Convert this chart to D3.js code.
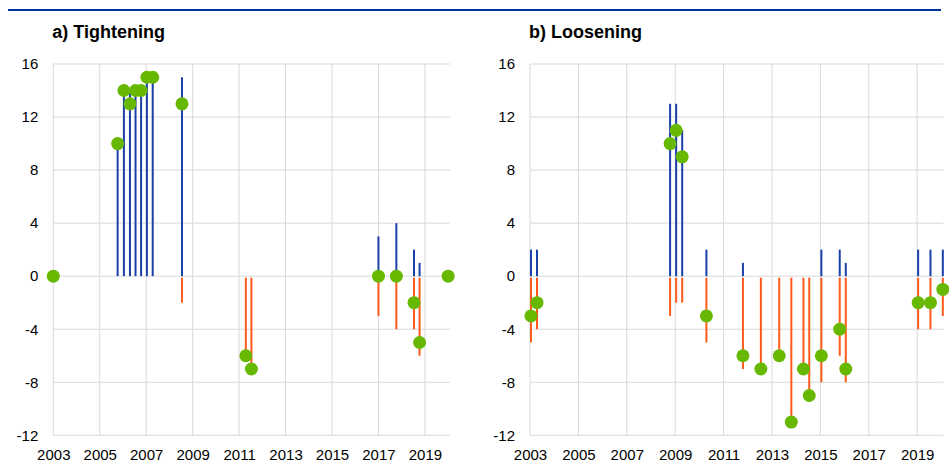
<!DOCTYPE html>
<html>
<head>
<meta charset="utf-8">
<script src="https://cdn.jsdelivr.net/npm/d3@7"></script>
<style>
  body { margin: 0; background: #fff; }
  text { font-family: Arial, "Liberation Sans", sans-serif; fill: #000; }
</style>
</head>
<body>
<svg width="949" height="473"></svg>
<script>
// a) tightening events: date (decimal year), max, min, median
var tDates = [2003.0, 2005.77, 2006.04, 2006.30, 2006.54, 2006.78, 2007.03, 2007.28, 2008.54, 2011.29, 2011.53, 2017.0, 2017.77, 2018.53, 2018.77, 2020.0];
var tMax = [0, 10, 14, 14, 14, 14, 15, 15, 15, 0, 0, 3, 4, 2, 1, 0];
var tMin = [0, 0, 0, 0, 0, 0, 0, 0, -2, -6, -7, -3, -4, -4, -6, 0];
var tMed = [0, 10, 14, 13, 14, 14, 15, 15, 13, -6, -7, 0, 0, -2, -5, 0];

// b) loosening events
var lDates = [2003.04, 2003.29, 2008.79, 2009.04, 2009.29, 2010.29, 2011.80, 2012.54, 2013.30, 2013.80, 2014.30, 2014.54, 2015.04, 2015.80, 2016.05, 2019.04, 2019.55, 2020.06];
var lMax = [2, 2, 13, 13, 11, 2, 1, 0, 0, 0, 0, 0, 2, 2, 1, 2, 2, 2];
var lMin = [-5, -4, -3, -2, -2, -5, -7, -7, -6, -11, -7, -9, -8, -6, -8, -4, -4, -3];
var lMed = [-3, -2, 10, 11, 9, -3, -6, -7, -6, -11, -7, -9, -6, -4, -7, -2, -2, -1];

var xTicks = [2003, 2005, 2007, 2009, 2011, 2013, 2015, 2017, 2019];
var yTicks = [-12, -8, -4, 0, 4, 8, 12, 16];

var svg = d3.select('svg');

// blue rule across the top
svg.append('line')
  .attr('x1', 8).attr('x2', 941)
  .attr('y1', 10).attr('y2', 10)
  .attr('stroke', '#003399')
  .attr('stroke-width', 2);

var y = d3.scaleLinear().domain([-12, 16]).range([435.3, 64]);

function panel(title, x0, x1, dates, maxs, mins, meds) {
  var x = d3.scaleLinear().domain([2003, 2020.08]).range([x0, x1]);
  var g = svg.append('g');

  g.append('text')
    .attr('x', x0 - 1)
    .attr('y', 37.5)
    .attr('font-size', 18)
    .attr('font-weight', 'bold')
    .text(title);

  // gridlines
  g.selectAll('.hg')
    .data(yTicks)
    .enter()
    .append('line')
    .attr('x1', x0).attr('x2', x1)
    .attr('y1', function(d) { return y(d); })
    .attr('y2', function(d) { return y(d); })
    .attr('stroke', '#d9d9d9')
    .attr('stroke-width', 1);

  g.selectAll('.vg')
    .data(xTicks)
    .enter()
    .append('line')
    .attr('x1', function(d) { return x(d); })
    .attr('x2', function(d) { return x(d); })
    .attr('y1', y(16)).attr('y2', y(-12))
    .attr('stroke', '#d9d9d9')
    .attr('stroke-width', 1);

  // axes labels (plain hyphen for negatives, as in the original)
  var plain = function(d) { return String(d); };
  var yAxis = d3.axisLeft(y).tickValues(yTicks).tickFormat(plain).tickSize(0).tickPadding(15);
  var ya = g.append('g').attr('transform', 'translate(' + x0 + ',0)').call(yAxis);
  var xAxis = d3.axisBottom(x).tickValues(xTicks).tickFormat(plain).tickSize(0).tickPadding(14);
  var xa = g.append('g').attr('transform', 'translate(0,' + y(-12) + ')').call(xAxis);
  [ya, xa].forEach(function(a) {
    a.select('.domain').remove();
    a.selectAll('text')
      .attr('font-size', 15)
      .attr('font-family', 'Arial, "Liberation Sans", sans-serif')
      .attr('fill', '#000');
  });

  var idx = d3.range(dates.length);

  // upper ranges (blue)
  g.selectAll('.up')
    .data(idx.filter(function(i) { return maxs[i] > 0; }))
    .enter()
    .append('line')
    .attr('x1', function(i) { return x(dates[i]); })
    .attr('x2', function(i) { return x(dates[i]); })
    .attr('y1', y(0))
    .attr('y2', function(i) { return y(maxs[i]); })
    .attr('stroke', '#1a3fa8')
    .attr('stroke-width', 2);

  // lower ranges (orange)
  g.selectAll('.dn')
    .data(idx.filter(function(i) { return mins[i] < 0; }))
    .enter()
    .append('line')
    .attr('x1', function(i) { return x(dates[i]); })
    .attr('x2', function(i) { return x(dates[i]); })
    .attr('y1', y(0) + 1.5)
    .attr('y2', function(i) { return y(mins[i]); })
    .attr('stroke', '#ff5a1a')
    .attr('stroke-width', 2);

  // medians
  g.selectAll('circle')
    .data(idx)
    .enter()
    .append('circle')
    .attr('cx', function(i) { return x(dates[i]); })
    .attr('cy', function(i) { return y(meds[i]); })
    .attr('r', 6.5)
    .attr('fill', '#66b800');
}

panel('a) Tightening', 53.3, 450, tDates, tMax, tMin, tMed);
panel('b) Loosening', 530, 943.3, lDates, lMax, lMin, lMed);
</script>
</body>
</html>
